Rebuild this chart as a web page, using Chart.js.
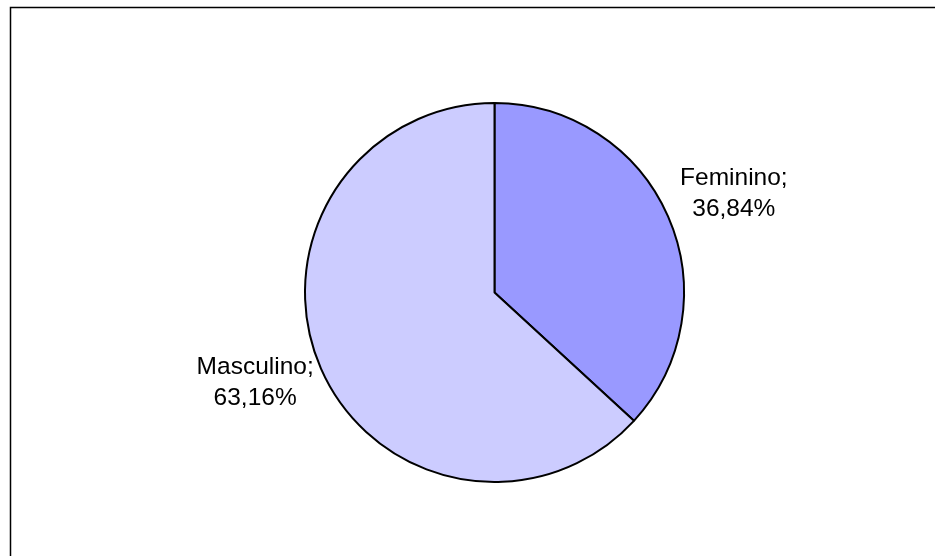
<!DOCTYPE html>
<html>
<head>
<meta charset="UTF-8">
<title>Sexo</title>
<script src="https://cdn.jsdelivr.net/npm/chart.js"></script>
<style>
    body {
        margin: 0;
        background-color: #ffffff;
    }
    #chart-container {
        width: 935px;
        height: 556px;
    }
</style>
</head>
<body>
<div id="chart-container">
    <canvas id="sexChart" width="935" height="556"></canvas>
</div>

<script>
    const categories = ['Feminino', 'Masculino'];
    const percentages = [36.84, 63.16];
    const sliceColors = ['#9999FF', '#CCCCFF'];

    // moldura: apenas as linhas de cima e da esquerda
    const framePlugin = {
        id: 'frame',
        beforeDraw(chart) {
            const ctx = chart.ctx;
            ctx.save();
            ctx.strokeStyle = '#000000';
            ctx.lineWidth = 1.5;
            ctx.beginPath();
            ctx.moveTo(10.5, chart.height);
            ctx.lineTo(10.5, 7.5);
            ctx.lineTo(chart.width, 7.5);
            ctx.stroke();
            ctx.restore();
        }
    };

    // rótulos "categoria; valor%" fora de cada fatia
    const sliceLabels = {
        id: 'sliceLabels',
        afterDatasetsDraw(chart) {
            const ctx = chart.ctx;
            const meta = chart.getDatasetMeta(0);
            ctx.save();
            ctx.font = '24.5px "Liberation Sans", Arial, sans-serif';
            ctx.fillStyle = '#000000';
            ctx.textAlign = 'center';
            ctx.textBaseline = 'middle';
            meta.data.forEach((arc, i) => {
                const p = arc.getProps(['x', 'y', 'startAngle', 'endAngle', 'outerRadius'], true);
                const mid = (p.startAngle + p.endAngle) / 2;
                const dist = p.outerRadius + 66;
                const cx = p.x + Math.cos(mid) * dist * 1.023;
                const cy = p.y + Math.sin(mid) * dist * 0.92 - 4.5;
                const value = percentages[i].toFixed(2).replace('.', ',') + '%';
                ctx.fillText(categories[i] + ';', cx, cy - 15.5);
                ctx.fillText(value, cx, cy + 15.5);
            });
            ctx.restore();
        }
    };

    const ctx = document.getElementById('sexChart').getContext('2d');
    new Chart(ctx, {
        type: 'pie',
        data: {
            labels: categories,
            datasets: [{
                data: percentages,
                backgroundColor: sliceColors,
                borderColor: '#000000',
                borderWidth: 2
            }]
        },
        options: {
            responsive: false,
            animation: false,
            layout: {
                padding: { left: 304, right: 250, top: 102, bottom: 73 }
            },
            plugins: {
                legend: { display: false },
                tooltip: { enabled: false }
            }
        },
        plugins: [framePlugin, sliceLabels]
    });
</script>
</body>
</html>
